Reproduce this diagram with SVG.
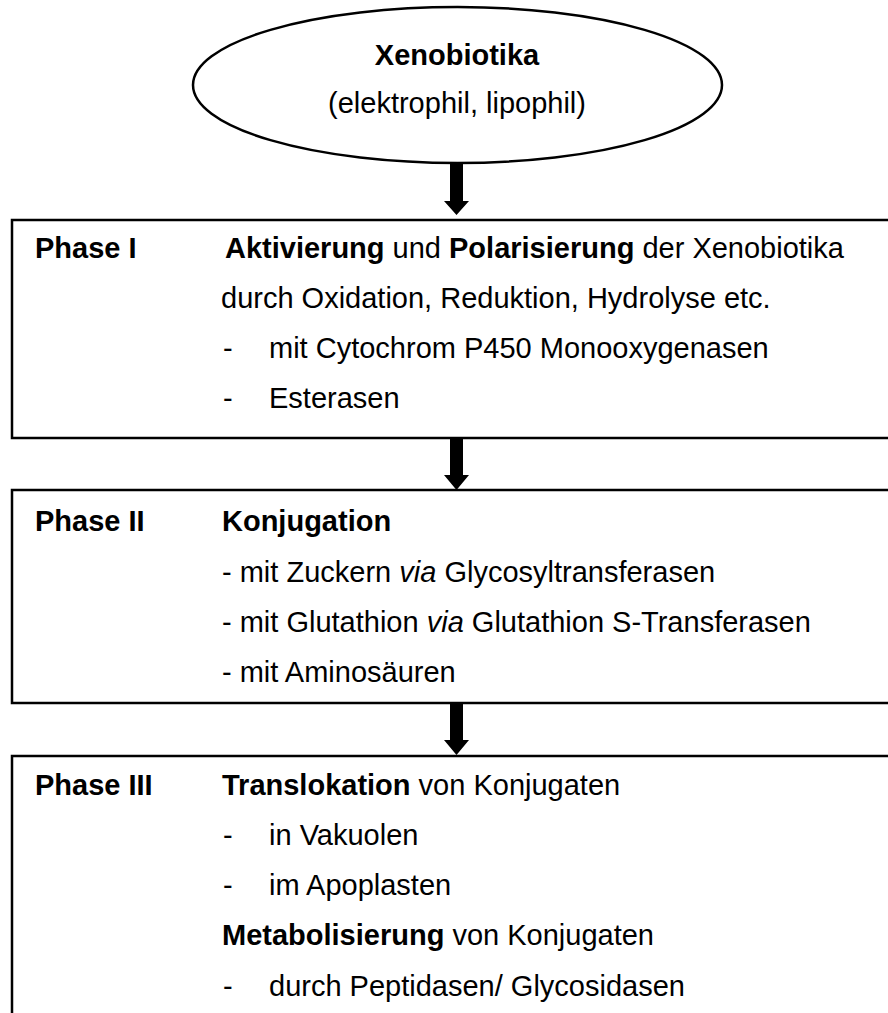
<svg xmlns="http://www.w3.org/2000/svg" width="888" height="1013" viewBox="0 0 888 1013">
<style>
text{font-family:"Liberation Sans",Arial,sans-serif;font-size:29px;fill:#000}
.b{font-weight:bold}
.i{font-style:italic}
.box{fill:#fff;stroke:#000;stroke-width:2.5}
.arr{fill:#000}
</style>
<rect width="888" height="1013" fill="#fff"/>
<g id="connectors">
<path class="arr" d="M450,163 H463 V201 H469 L456.5,215 L444,201 H450 Z"/>
<path class="arr" d="M450,439 H463 V475 H469 L456.5,490 L444,475 H450 Z"/>
<path class="arr" d="M450,703 H463 V740 H469 L456.5,755 L444,740 H450 Z"/>
</g>
<g id="xenobiotika">
<ellipse class="box" cx="457.5" cy="85" rx="264.5" ry="78"/>
<text class="b" x="457" y="65" text-anchor="middle">Xenobiotika</text>
<text x="457" y="113" text-anchor="middle">(elektrophil, lipophil)</text>
</g>
<g id="phase1">
<rect class="box" x="12" y="220" width="890" height="218"/>
<text class="b" x="35" y="258">Phase I</text>
<text x="225" y="258"><tspan class="b">Aktivierung</tspan> und <tspan class="b">Polarisierung</tspan> der Xenobiotika</text>
<text x="221" y="308">durch Oxidation, Reduktion, Hydrolyse etc.</text>
<text x="223" y="358">-</text>
<text x="269" y="358">mit Cytochrom P450 Monooxygenasen</text>
<text x="223" y="408">-</text>
<text x="269" y="408">Esterasen</text>
</g>
<g id="phase2">
<rect class="box" x="12" y="490" width="890" height="213"/>
<text class="b" x="35" y="531">Phase II</text>
<text class="b" x="222" y="531">Konjugation</text>
<text x="222" y="582">- mit Zuckern <tspan class="i">via</tspan> Glycosyltransferasen</text>
<text x="222" y="632">- mit Glutathion <tspan class="i">via</tspan> Glutathion S-Transferasen</text>
<text x="222" y="682">- mit Aminosäuren</text>
</g>
<g id="phase3">
<rect class="box" x="12" y="756" width="890" height="300"/>
<text class="b" x="35" y="795">Phase III</text>
<text x="222" y="795"><tspan class="b">Translokation</tspan> von Konjugaten</text>
<text x="223" y="845">-</text>
<text x="269" y="845">in Vakuolen</text>
<text x="223" y="895">-</text>
<text x="269" y="895">im Apoplasten</text>
<text x="222" y="945"><tspan class="b">Metabolisierung</tspan>  von Konjugaten</text>
<text x="223" y="996">-</text>
<text x="269" y="996">durch Peptidasen/ Glycosidasen</text>
</g>
</svg>
